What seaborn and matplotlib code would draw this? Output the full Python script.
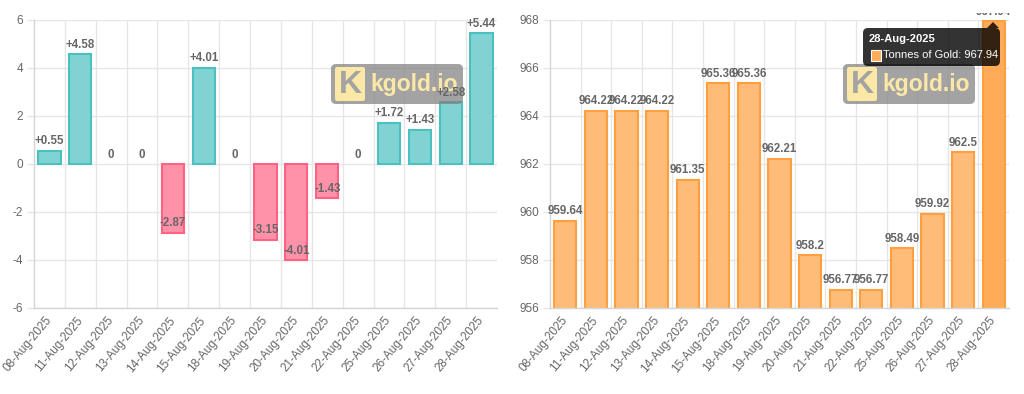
import numpy as np
import pandas as pd
import seaborn as sns
import matplotlib.pyplot as plt
from matplotlib.patches import FancyBboxPatch, Rectangle, Polygon
from matplotlib.transforms import Affine2D, Bbox, TransformedBbox

dates = ['08-Aug-2025', '11-Aug-2025', '12-Aug-2025', '13-Aug-2025', '14-Aug-2025',
         '15-Aug-2025', '18-Aug-2025', '19-Aug-2025', '20-Aug-2025', '21-Aug-2025',
         '22-Aug-2025', '25-Aug-2025', '26-Aug-2025', '27-Aug-2025', '28-Aug-2025']
change = [0.55, 4.58, 0, 0, -2.87, 4.01, 0, -3.15, -4.01, -1.43, 0, 1.72, 1.43, 2.58, 5.44]
tonnes = [959.64, 964.22, 964.22, 964.22, 961.35, 965.36, 965.36, 962.21,
          958.2, 956.77, 956.77, 958.49, 959.92, 962.5, 967.94]
change_ticks = [-6, -4, -2, 0, 2, 4, 6]
tonnes_ticks = [956, 958, 960, 962, 964, 966, 968]
hover_date = '28-Aug-2025'
hover_label = 'Tonnes of Gold'

teal, teal_edge = '#81d3d3', '#4bc0c0'
pink, pink_edge = '#ff92a9', '#ff6384'
orange, orange_edge = '#ffbc79', '#ff9f40'
orange_hover = '#ffab58'
grid_c = '#e6e6e6'
text_c = '#666666'

sns.set_style('white')
plt.rcParams['font.family'] = ['Liberation Sans', 'DejaVu Sans']
plt.rcParams['axes.unicode_minus'] = False

fig = plt.figure(figsize=(10.24, 3.94), dpi=100)
# pixel coords, origin top-left
px = Affine2D().scale(1 / 1024, -1 / 394).translate(0, 1) + fig.transFigure

ax1 = fig.add_axes([34 / 1024, 1 - 308 / 394, 463 / 1024, 288 / 394])
ax2 = fig.add_axes([550 / 1024, 1 - 308 / 394, 459 / 1024, 288 / 394])

df1 = pd.DataFrame({'date': dates, 'change': change})
df1['dir'] = np.where(df1['change'] < 0, 'down', 'up')
sns.barplot(data=df1, x='date', y='change', hue='dir', palette={'up': teal, 'down': pink},
            dodge=False, legend=False, width=0.72, saturation=1, ax=ax1)
for p in ax1.patches:
    h = p.get_height()
    if h == 0 or np.isnan(h):
        p.set_linewidth(0)
    else:
        p.set_edgecolor(pink_edge if h < 0 else teal_edge)
        p.set_linewidth(1.5)

df2 = pd.DataFrame({'date': dates, 'tonnes': tonnes})
sns.barplot(data=df2, x='date', y='tonnes', color=orange, width=0.72, saturation=1, ax=ax2)
for p, d in zip(ax2.patches, dates):
    p.set_edgecolor(orange_edge)
    p.set_linewidth(1.5)
    if d == hover_date:
        p.set_facecolor(orange_hover)

for ax, ticks in [(ax1, change_ticks), (ax2, tonnes_ticks)]:
    ax.set_xlim(-0.5, len(dates) - 0.5)
    ax.set_ylim(ticks[0], ticks[-1])
    ax.set_yticks(ticks)
    ax.set_xlabel('')
    ax.set_ylabel('')
    ax.set_xticks(np.arange(0.5, len(dates) - 1, 1), minor=True)
    ax.set_axisbelow(True)
    ax.yaxis.grid(True, color=grid_c, lw=1)
    ax.xaxis.grid(True, which='minor', color=grid_c, lw=1)
    ax.tick_params(axis='x', which='major', length=0, pad=7.5, labelsize=8.5,
                   labelcolor=text_c, labelrotation=50)
    ax.tick_params(axis='x', which='minor', length=6, width=1, color=grid_c)
    ax.tick_params(axis='y', length=5, width=1, color=grid_c, pad=3,
                   labelsize=8.5, labelcolor=text_c, left=True)
    for lab in ax.get_xticklabels():
        lab.set_ha('right')
        lab.set_va('center')
        lab.set_rotation_mode('anchor')
    for s in ['top', 'right']:
        ax.spines[s].set_visible(False)
    for s in ['left', 'bottom']:
        ax.spines[s].set_color('#d5d5d5')
        ax.spines[s].set_linewidth(1)

# value labels
for i, v in enumerate(change):
    s = '0' if v == 0 else f'{v:+g}'
    ax1.annotate(s, (i, v), xytext=(0, 2.5), textcoords='offset points', ha='center',
                 va='bottom', fontsize=8.3, fontweight='bold', color=text_c, zorder=6)
top_clip = TransformedBbox(Bbox([[0, 0], [1, 1 - 13 / 394]]), fig.transFigure)
for i, v in enumerate(tonnes):
    t = ax2.annotate(f'{v:g}', (i, v), xytext=(0, 2.5), textcoords='offset points', ha='center',
                     va='bottom', fontsize=8.3, fontweight='bold', color=text_c, zorder=6,
                     annotation_clip=False)
    t.set_clip_box(top_clip)
    t.set_clip_on(True)


def watermark(ax, x0, y0):
    ax.add_patch(FancyBboxPatch((x0, y0), 132, 40, boxstyle='round,pad=0,rounding_size=5',
                                transform=px, facecolor='#808080', alpha=0.72, lw=0,
                                clip_on=False, zorder=5))
    ax.add_patch(FancyBboxPatch((x0 + 4, y0 + 3), 30, 34, boxstyle='round,pad=0,rounding_size=2',
                                transform=px, facecolor='#fbe8a6', lw=0, clip_on=False, zorder=5))
    ax.text(x0 + 19, y0 + 21, 'K', transform=px, ha='center', va='center', fontsize=23,
            fontweight='bold', color='#a3a3a3', clip_on=False, zorder=5)
    ax.text(x0 + 39, y0 + 21, 'kgold.io', transform=px, ha='left', va='center', fontsize=16.5,
            fontweight='bold', color='#fbe8a6', clip_on=False, zorder=5)


watermark(ax1, 331, 64)
watermark(ax2, 843, 64)

# tooltip on the last bar
ax2.add_patch(FancyBboxPatch((863, 28), 137, 38, boxstyle='round,pad=0,rounding_size=5',
                             transform=px, facecolor='black', alpha=0.8, lw=0,
                             clip_on=False, zorder=8))
ax2.add_patch(Polygon([(987, 28), (993, 22), (999, 28)], closed=True, transform=px,
                      facecolor='black', alpha=0.8, lw=0, clip_on=False, zorder=8))
ax2.text(869, 39, hover_date, transform=px, ha='left', va='center', fontsize=8,
         fontweight='bold', color='white', clip_on=False, zorder=9)
ax2.add_patch(Rectangle((871, 50), 10, 11, transform=px, facecolor=orange_hover,
                        edgecolor='white', lw=0.8, clip_on=False, zorder=9))
ax2.text(883, 55.5, f'{hover_label}: {tonnes[dates.index(hover_date)]:g}', transform=px,
         ha='left', va='center', fontsize=8, color='white', clip_on=False, zorder=9)

plt.savefig('out.png', dpi=100)
